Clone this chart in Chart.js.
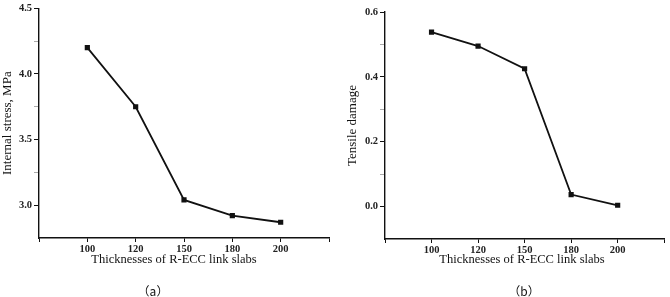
<!DOCTYPE html>
<html>
<head>
<meta charset="utf-8">
<script src="https://cdn.jsdelivr.net/npm/chart.js@4/dist/chart.umd.min.js"></script>
<style>
    body { margin: 0; background: #fff; }
    #wrap { position: relative; width: 670px; height: 297px; }
    .box { position: absolute; top: 0; width: 335px; height: 297px; }
</style>
</head>
<body>
<div id="wrap">
    <div class="box" style="left:0"><canvas id="stressChart"></canvas></div>
    <div class="box" style="left:335px"><canvas id="damageChart"></canvas></div>
</div>
<script>
// data
const thicknesses = ['100', '120', '150', '180', '200'];
const stressValues = [4.2, 3.75, 3.04, 2.92, 2.87];
const damageValues = [0.538, 0.495, 0.425, 0.037, 0.004];

const stressMajor = [3.0, 3.5, 4.0, 4.5];
const stressMinor = [3.25, 3.75, 4.25];
const damageMajor = [0.0, 0.2, 0.4, 0.6];
const damageMinor = [0.1, 0.3, 0.5];

const serif = '"Liberation Serif", "Times New Roman", serif';

// x title + (a)/(b) caption, drawn under each chart
const captionPlugin = {
    id: 'captions',
    afterDraw(chart, args, opts) {
        const c = chart.ctx;
        c.save();
        c.fillStyle = '#111';
        c.textAlign = 'center';
        c.textBaseline = 'middle';
        c.font = '12.5px ' + serif;
        c.fillText(opts.xTitle, opts.xTitleX, 260);
        c.font = '12px "Noto Sans CJK SC"';
        c.fillText(opts.caption, opts.captionX, 291);
        c.restore();
    }
};

function makeChart(id, values, o) {
    const ctx = document.getElementById(id).getContext('2d');
    const yTicks = o.major.concat(o.minor).sort((a, b) => a - b);

    return new Chart(ctx, {
        type: 'line',
        data: {
            datasets: [{
                data: values.map((v, i) => ({ x: i, y: v })),
                borderColor: '#111',
                borderWidth: 1.8,
                backgroundColor: '#111',
                pointStyle: 'rect',
                pointRadius: 2.4,
                tension: 0,
            }],
        },
        plugins: [captionPlugin],
        options: {
            responsive: true,
            maintainAspectRatio: false,
            animation: false,
            layout: {
                padding: { left: o.padLeft, right: o.padRight, top: o.padTop, bottom: 0 },
            },
            scales: {
                x: {
                    type: 'linear',
                    min: -1,
                    max: 5,
                    afterBuildTicks: (scale) => {
                        scale.ticks = [-1, 0, 1, 2, 3, 4, 5].map((v) => ({ value: v }));
                    },
                    afterFit: (scale) => { scale.height = o.xHeight; },
                    grid: {
                        drawOnChartArea: false,
                        color: '#111',
                        tickLength: 4,
                    },
                    border: { color: '#111', width: 1.4 },
                    ticks: {
                        autoSkip: false,
                        maxRotation: 0,
                        padding: 1,
                        color: '#222',
                        font: { family: serif, size: 10.5, weight: 'bold' },
                        callback: (v) => thicknesses[v] ?? '',
                    },
                },
                y: {
                    min: o.yMin,
                    max: o.yMax,
                    afterBuildTicks: (scale) => {
                        scale.ticks = yTicks.map((v) => ({ value: v }));
                    },
                    afterFit: (scale) => { scale.width = o.yWidth; },
                    grid: {
                        drawOnChartArea: false,
                        tickLength: 5,
                        color: (c) => (c.tick && o.major.includes(c.tick.value) ? '#111' : '#aaa'),
                    },
                    border: { color: '#111', width: 1.4 },
                    ticks: {
                        padding: 2,
                        color: '#222',
                        font: { family: serif, size: 10.5, weight: 'bold' },
                        callback: (v) => (o.major.includes(v) ? v.toFixed(1) : ''),
                    },
                    title: {
                        display: true,
                        text: o.yTitle,
                        color: '#111',
                        padding: { top: o.titlePad, bottom: 0 },
                        font: { family: serif, size: 13 },
                    },
                },
            },
            plugins: {
                legend: { display: false },
                tooltip: { enabled: false },
                captions: {
                    xTitle: 'Thicknesses of R-ECC link slabs',
                    xTitleX: o.xTitleX,
                    caption: o.caption,
                    captionX: o.captionX,
                },
            },
        },
    });
}

makeChart('stressChart', stressValues, {
    major: stressMajor, minor: stressMinor,
    yMin: 2.75, yMax: 4.5,
    yTitle: 'Internal stress, MPa',
    padLeft: 0, padRight: 6, padTop: 5,
    yWidth: 39, xHeight: 59, titlePad: 0,
    xTitleX: 174, caption: '（a）', captionX: 153,
});

makeChart('damageChart', damageValues, {
    major: damageMajor, minor: damageMinor,
    yMin: -0.1, yMax: 0.6,
    yTitle: 'Tensile damage',
    padLeft: 0, padRight: 4, padTop: 12,
    yWidth: 50, xHeight: 58, titlePad: 10,
    xTitleX: 187, caption: '（b）', captionX: 189,
});
</script>
</body>
</html>
